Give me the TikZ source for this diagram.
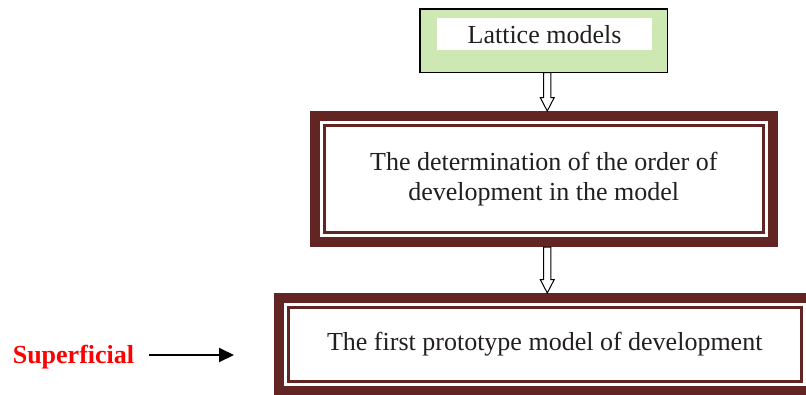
\documentclass[tikz,border=0pt]{standalone}
\usepackage{fontspec}
\setmainfont{Liberation Serif}
\usepackage{xcolor}
\usetikzlibrary{shapes,positioning,arrows.meta}

\definecolor{latgreen}{RGB}{206,232,180}
\definecolor{frame}{RGB}{99,37,35}
\definecolor{ink}{RGB}{35,31,32}

\tikzset{
  greenbox/.style={draw=black, line width=1.7pt, fill=latgreen,
    minimum width=247.5pt, minimum height=63.5pt, outer sep=0pt},
  whitebox/.style={fill=white, minimum width=215pt, minimum height=31.7pt,
    inner sep=0pt, text=ink, font=\fontsize{26}{30}\selectfont},
  framebox/.style={preaction={draw=frame, line width=29pt},
    preaction={draw=white, line width=9pt},
    draw=frame, line width=3pt, fill=white, align=center, outer sep=0pt,
    text=ink, font=\fontsize{26}{30}\selectfont},
  harrow/.style={draw=black, line width=1pt, fill=white, line join=miter},
  suplabel/.style={text=red, inner sep=0pt,
    font=\fontsize{26}{30}\selectfont\bfseries},
  suparrow/.style={draw=black, line width=2pt,
    -{Triangle[length=15pt,width=14pt]}}
}

\begin{document}
\begin{tikzpicture}[x=1pt, y=1pt]
    \useasboundingbox (0,0) rectangle (806,-394);
    \node[greenbox] (latbox) at (543.75,-40.75) {};
    \node[whitebox] (lat) at (544.5,-34.2) {Lattice models};
    \node[framebox, minimum width=439pt, minimum height=107pt,
      below=53pt of latbox] (det)
      {The determination of the order of\\development in the model};
    \node[framebox, minimum width=513pt, minimum height=74pt,
      below=75pt of det, xshift=1pt] (proto)
      {The first prototype model of development};
    % hollow arrows between the boxes
    \draw[harrow] ([xshift=3.5pt]latbox.south) ++(-3.7,0) -- ++(0,-25)
      -- ++(-3.3,0) -- ++(7,-13.5) -- ++(7,13.5) -- ++(-3.3,0)
      -- ++(0,25) -- cycle;
    \draw[harrow] ([xshift=3.5pt,yshift=-14.5pt]det.south) ++(-3.7,0)
      -- ++(0,-32.5) -- ++(-3.3,0) -- ++(7,-13.5) -- ++(7,13.5)
      -- ++(-3.3,0) -- ++(0,32.5) -- cycle;
    \node[suplabel] (sup) at (73.5,-357) {Superficial};
    \coordinate (supend) at (234,-355);
    \draw[suparrow] ([shift={(15,2)}]sup.east) -- (supend);
  \end{tikzpicture}
\end{document}
